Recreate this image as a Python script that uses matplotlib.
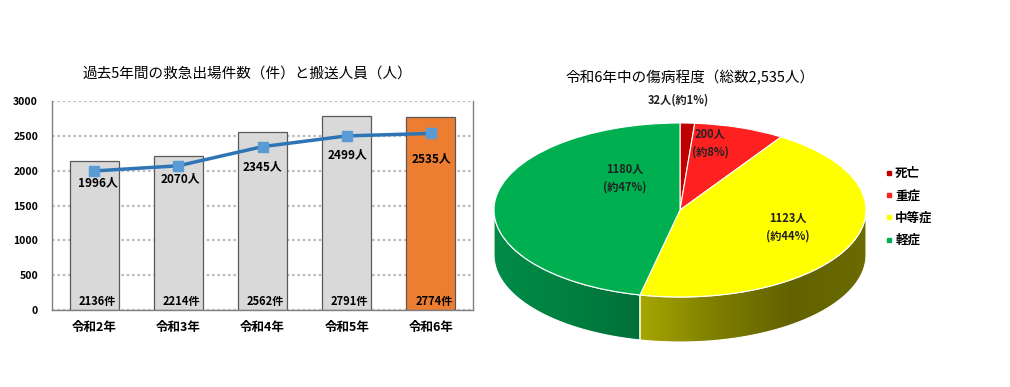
import matplotlib
matplotlib.use("Agg")
import matplotlib.pyplot as plt
import numpy as np
from matplotlib.colors import LinearSegmentedColormap
from matplotlib.lines import Line2D
from matplotlib.patches import Polygon

plt.rcParams["font.family"] = ["Noto Sans CJK JP", "DejaVu Sans"]

# ------------------------------
# data
# ------------------------------
years = ["令和2年", "令和3年", "令和4年", "令和5年", "令和6年"]
dispatches = [2136, 2214, 2562, 2791, 2774]  # 件
transported = [1996, 2070, 2345, 2499, 2535]  # 人

severity = ["死亡", "重症", "中等症", "軽症"]
severity_counts = [32, 200, 1123, 1180]
severity_pct = [1, 8, 44, 47]

W, H = 1010, 387
fig = plt.figure(figsize=(W / 100, H / 100), dpi=100)


def px_box(x0, y0, x1, y1):
    # pixel box (top-left origin) -> figure fraction rect
    return [x0 / W, 1 - y1 / H, (x1 - x0) / W, (y1 - y0) / H]


# ------------------------------
# left: bar + line
# ------------------------------
ax = fig.add_axes(px_box(52, 101, 473, 310))
x = np.arange(len(years))
bar_colors = ["#D9D9D9"] * (len(years) - 1) + ["#ED7D31"]
ax.bar(x, dispatches, width=0.58, color=bar_colors, edgecolor="#595959",
       linewidth=0.9, zorder=2)
ax.plot(x, transported, color="#2E75B6", linewidth=2.5, marker="s",
        markersize=7, markerfacecolor="#5B9BD5", markeredgecolor="#5B9BD5",
        zorder=3)

for i, v in enumerate(dispatches):
    ax.annotate(f"{v}件", xy=(i, 0), xytext=(3, 8), textcoords="offset pixels",
                ha="center", va="center", fontsize=8, fontweight="bold")

# label offsets below the line points, in pixels
line_label_offsets = [(4, -12), (2, -13), (0, -20), (1, -19), (1, -25)]
for i, v in enumerate(transported):
    ax.annotate(f"{v}人", xy=(i, v), xytext=line_label_offsets[i],
                textcoords="offset pixels", ha="center", va="center",
                fontsize=8.5, fontweight="bold")

ax.set_xlim(-0.5, len(years) - 0.5)
ax.set_ylim(0, 3000)
ax.set_yticks(np.arange(0, 3001, 500))
ax.set_xticks(x)
ax.set_xticklabels(years, fontsize=9, fontweight="bold")
ax.tick_params(axis="y", labelsize=7.5, length=0, pad=10)
ax.tick_params(axis="x", length=0, pad=8)
for lab in ax.get_yticklabels():
    lab.set_fontweight("bold")
ax.grid(axis="y", color="#BFBFBF", linestyle=(0, (1.2, 1.2)), linewidth=1.6,
        zorder=0)
ax.set_axisbelow(True)
for side in ["left", "right", "bottom"]:
    ax.spines[side].set_color("#808080")
    ax.spines[side].set_linewidth(1)
ax.spines["top"].set_visible(False)

fig.text(247 / W, 1 - 74 / H, "過去5年間の救急出場件数（件）と搬送人員（人）",
         ha="center", va="center", fontsize=10.5)

# ------------------------------
# right: pseudo 3D pie
# ------------------------------
cx, cy, rx, ry, depth_px = 680, 210, 186, 87, 45
pax = fig.add_axes([480 / W, 0, 530 / W, 1])
pie_colors = ["#C00000", "#FF2020", "#FFFF00", "#00B050"]
wedges, _ = pax.pie(severity_counts, colors=pie_colors, startangle=90,
                    counterclock=False, radius=1,
                    wedgeprops=dict(edgecolor="white", linewidth=0.8))
for w in wedges:
    w.set_zorder(3)

pax.set_aspect("auto")
pax.set_xlim((480 - cx) / rx, (1010 - cx) / rx)
pax.set_ylim(-(H - cy) / ry, cy / ry)
pax.axis("off")

depth = depth_px / ry
side_cmaps = {
    2: LinearSegmentedColormap.from_list("ys", ["#A6A600", "#7E7E00", "#626200", "#6B6B00"]),
    3: LinearSegmentedColormap.from_list("gs", ["#008C48", "#008040", "#00703A"]),
}
for idx, w in enumerate(wedges):
    t = np.radians(np.linspace(w.theta1, w.theta2, 400))
    t = t[np.sin(t) <= 1e-9]
    if len(t) < 2:
        continue
    top = np.column_stack([np.cos(t), np.sin(t)])
    bot = top - [0, depth]
    poly = Polygon(np.vstack([top, bot[::-1]]), closed=True, facecolor="none",
                   edgecolor="white", linewidth=0.8, zorder=2)
    pax.add_patch(poly)
    cmap = side_cmaps.get(idx, LinearSegmentedColormap.from_list("c", [pie_colors[idx]] * 2))
    x0, x1 = top[:, 0].min(), top[:, 0].max()
    grad = np.linspace(0, 1, 256).reshape(1, -1)
    im = pax.imshow(grad, cmap=cmap, aspect="auto",
                    extent=(x0, x1, -1 - depth, 0.2), zorder=1)
    im.set_clip_path(poly)

pie_labels = [f"{c}人(約{p}%)" if c < 100 else f"{c}人\n(約{p}%)"
              for c, p in zip(severity_counts, severity_pct)]
label_pos_px = [(678, 100), (710, 143), (788, 227), (625, 178)]
for lab, (lx, ly) in zip(pie_labels, label_pos_px):
    fig.text(lx / W, 1 - ly / H, lab, ha="center", va="center", fontsize=8,
             fontweight="bold", color="#222222", linespacing=1.45)

handles = [Line2D([], [], marker="s", linestyle="", markersize=3.5,
                  color=c) for c in pie_colors]
fig.legend(handles, severity, loc="center left",
           bbox_to_anchor=(874 / W, 1 - 207 / H), frameon=False,
           prop=dict(size=9, weight="bold"), handlelength=0.6,
           handletextpad=0.2, labelspacing=0.75)

fig.text(690 / W, 1 - 78 / H, "令和6年中の傷病程度（総数2,535人）",
         ha="center", va="center", fontsize=10.5)

fig.savefig("out.png", dpi=100)
